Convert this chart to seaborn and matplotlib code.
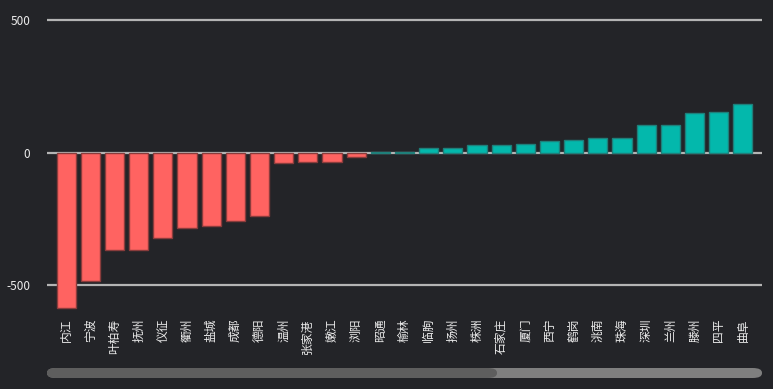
import matplotlib
matplotlib.use("Agg")
import matplotlib.pyplot as plt
import seaborn as sns
import pandas as pd
from matplotlib.patches import FancyBboxPatch

cities = ["内江", "宁波", "叶柏寿", "抚州", "仪征", "衢州", "盐城", "成都", "德阳",
          "温州", "张家港", "嫩江", "浏阳", "昭通", "榆林", "临朐", "扬州", "株洲",
          "石家庄", "厦门", "西宁", "鹤岗", "洮南", "珠海", "深圳", "兰州", "滕州",
          "四平", "曲阜"]
values = [-586, -485, -368, -368, -324, -285, -278, -258, -241,
          -38, -36, -34, -15, 3, 2, 17, 17, 29,
          29, 33, 44, 48, 54, 55, 104, 104, 149,
          154, 183]
y_ticks = [-500, 0, 500]
y_tick_labels = ["-500", "0", "500"]

BG = "#232428"
RED = "#ff6361"
TEAL = "#03b8ac"

sns.set_theme(style="dark")
plt.rcParams["font.family"] = ["Noto Sans CJK SC", "DejaVu Sans"]
plt.rcParams["axes.unicode_minus"] = False

df = pd.DataFrame({"city": cities, "value": values})
df["sign"] = ["neg" if v < 0 else "pos" for v in values]

fig = plt.figure(figsize=(7.73, 3.89), dpi=100, facecolor=BG)
W, H = 773, 389
ax = fig.add_axes([47 / W, 1 - 310 / H, (762 - 47) / W, 300 / H])
ax.set_facecolor(BG)

sns.barplot(data=df, x="city", y="value", hue="sign",
            palette={"neg": RED, "pos": TEAL}, dodge=False, width=0.79,
            saturation=1, legend=False, ax=ax, zorder=3)
for p in ax.patches:
    v = p.get_height()
    p.set_edgecolor("#8a3c3c" if v < 0 else "#1f7f7a")
    p.set_linewidth(1.0)

ax.set_ylim(-594, 538)
ax.set_xlim(-0.79, len(cities) - 1 + 0.79)
ax.set_yticks(y_ticks)
ax.set_yticklabels(y_tick_labels)
for yv in y_ticks:
    ax.axhline(yv, color="#b4b4b4", lw=1.6, zorder=2)

ax.grid(False)
for s in ax.spines.values():
    s.set_visible(False)
ax.set_xlabel("")
ax.set_ylabel("")
ax.tick_params(axis="y", length=0, pad=12, labelcolor="#ececec", labelsize=8.5)
ax.tick_params(axis="x", length=0, pad=6, labelcolor="#ececec", labelsize=8.5)
for lab in ax.get_xticklabels():
    lab.set_rotation(90)
    lab.set_ha("center")
    lab.set_va("top")

# scrollbar (data zoom slider look)
fig.patches.append(FancyBboxPatch((47 / W, 1 - 378 / H), (762 - 47) / W, 10 / H,
                                  boxstyle="round,pad=0,rounding_size=0.012",
                                  transform=fig.transFigure, facecolor="#7f7f7f",
                                  edgecolor="none"))
fig.patches.append(FancyBboxPatch((47 / W, 1 - 378 / H), (497 - 47) / W, 10 / H,
                                  boxstyle="round,pad=0,rounding_size=0.012",
                                  transform=fig.transFigure, facecolor="#5e5e5e",
                                  edgecolor="none"))

fig.savefig("out.png", dpi=100, facecolor=BG)
